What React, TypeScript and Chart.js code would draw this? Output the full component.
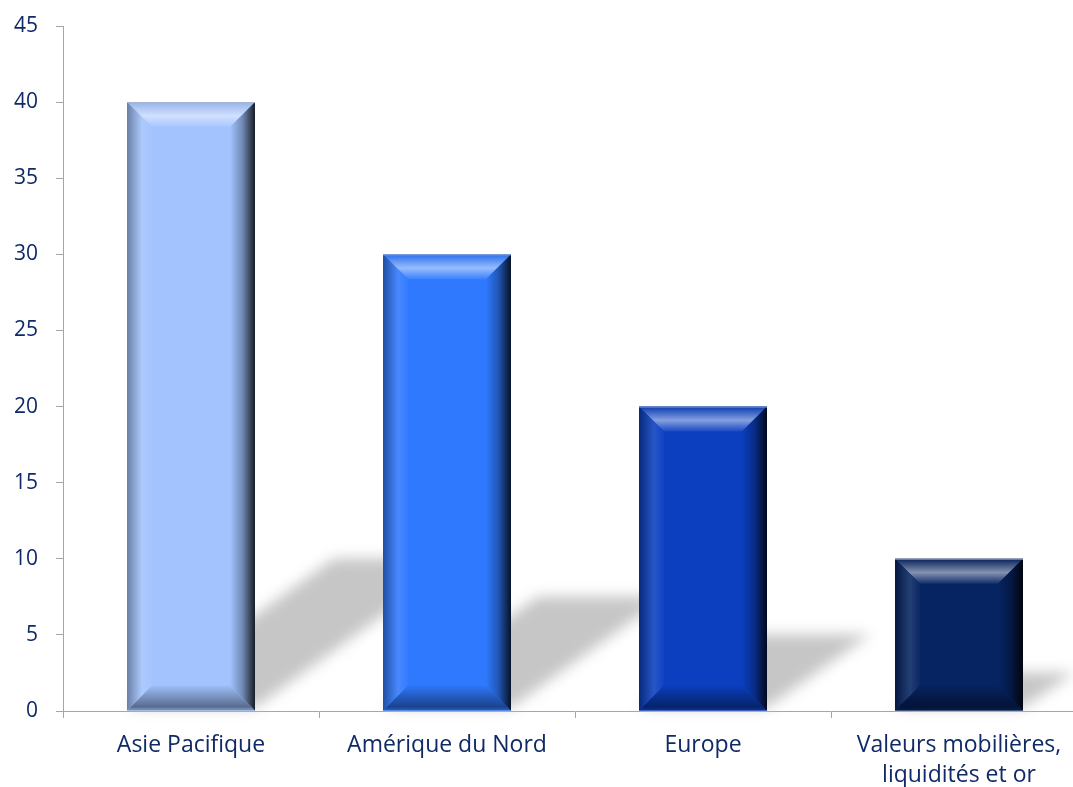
import { useEffect, useRef } from "react";
import { Chart, registerables } from "chart.js";

Chart.register(...registerables);

const categories: (string | string[])[] = [
  "Asie Pacifique",
  "Amérique du Nord",
  "Europe",
  ["Valeurs mobilières,", "liquidités et or"],
];
const values = [40, 30, 20, 10];
const barColors = ["#A2C3FE", "#2F79FE", "#0B3FC0", "#062462"];
const yMin = 0;
const yMax = 45;
const yStep = 5;

const TEXT = "#0F2A66";
const AXIS = "#A6A6A6";

function hexToRgb(h: string): number[] {
  const v = h.replace("#", "");
  return [0, 2, 4].map((i) => parseInt(v.slice(i, i + 2), 16));
}
function mix(c: number[], t: number[], a: number): string {
  const r = c.map((v, i) => Math.round(v + (t[i] - v) * a));
  return `rgb(${r[0]},${r[1]},${r[2]})`;
}
const W = [255, 255, 255];
const K = [0, 0, 0];

const bevelPlugin = {
  id: "bevel",
  beforeDatasetsDraw(chart: any) {
    const meta = chart.getDatasetMeta(0);
    const ctx = chart.ctx as CanvasRenderingContext2D;
    ctx.save();
    ctx.filter = "blur(7px)";
    ctx.fillStyle = "#C6C6C6";
    meta.data.forEach((el: any) => {
      const { x, y, base, width } = el.getProps(["x", "y", "base", "width"], true);
      const x0 = x - width / 2;
      const x1 = x + width / 2;
      const h = base - y;
      const dx = 0.34 * h;
      const dy = 0.25 * h;
      ctx.beginPath();
      ctx.moveTo(x0, base - 3);
      ctx.lineTo(x1, base - 3);
      ctx.lineTo(x1 + dx, base - dy);
      ctx.lineTo(x0 + dx, base - dy);
      ctx.closePath();
      ctx.fill();
    });
    ctx.restore();
  },
  afterDatasetsDraw(chart: any) {
    const meta = chart.getDatasetMeta(0);
    const ctx = chart.ctx as CanvasRenderingContext2D;
    ctx.save();
    meta.data.forEach((el: any, i: number) => {
      const { x, y, base, width } = el.getProps(["x", "y", "base", "width"], true);
      const c = hexToRgb(barColors[i]);
      const x0 = x - width / 2;
      const x1 = x + width / 2;
      const top = y;
      const bot = base;
      const b = Math.min(25, (bot - top) / 2, width / 2);

      let g = ctx.createLinearGradient(0, top, 0, top + b);
      g.addColorStop(0, mix(c, K, 0.08));
      g.addColorStop(0.55, mix(c, W, 0.5));
      g.addColorStop(1, mix(c, W, 0.05));
      ctx.fillStyle = g;
      ctx.beginPath();
      ctx.moveTo(x0, top);
      ctx.lineTo(x1, top);
      ctx.lineTo(x1 - b, top + b);
      ctx.lineTo(x0 + b, top + b);
      ctx.closePath();
      ctx.fill();

      g = ctx.createLinearGradient(0, bot - b, 0, bot);
      g.addColorStop(0, mix(c, K, 0.02));
      g.addColorStop(0.6, mix(c, K, 0.32));
      g.addColorStop(0.85, mix(c, K, 0.45));
      g.addColorStop(1, mix(c, K, 0.2));
      ctx.fillStyle = g;
      ctx.beginPath();
      ctx.moveTo(x0, bot);
      ctx.lineTo(x1, bot);
      ctx.lineTo(x1 - b, bot - b);
      ctx.lineTo(x0 + b, bot - b);
      ctx.closePath();
      ctx.fill();

      g = ctx.createLinearGradient(x0, 0, x0 + b, 0);
      g.addColorStop(0, mix(c, K, 0.35));
      g.addColorStop(0.6, mix(c, W, 0.12));
      g.addColorStop(1, mix(c, W, 0.02));
      ctx.fillStyle = g;
      ctx.beginPath();
      ctx.moveTo(x0, top);
      ctx.lineTo(x0 + b, top + b);
      ctx.lineTo(x0 + b, bot - b);
      ctx.lineTo(x0, bot);
      ctx.closePath();
      ctx.fill();

      g = ctx.createLinearGradient(x1 - b, 0, x1, 0);
      g.addColorStop(0, mix(c, K, 0.0));
      g.addColorStop(0.5, mix(c, K, 0.3));
      g.addColorStop(1, mix(c, K, 0.85));
      ctx.fillStyle = g;
      ctx.beginPath();
      ctx.moveTo(x1, top);
      ctx.lineTo(x1 - b, top + b);
      ctx.lineTo(x1 - b, bot - b);
      ctx.lineTo(x1, bot);
      ctx.closePath();
      ctx.fill();

      ctx.strokeStyle = "rgba(170,180,200,0.8)";
      ctx.lineWidth = 1;
      ctx.beginPath();
      ctx.moveTo(x0, top + 0.5);
      ctx.lineTo(x1, top + 0.5);
      ctx.stroke();
    });
    ctx.restore();
  },
};

export default function App() {
  const ref = useRef<HTMLCanvasElement>(null);

  useEffect(() => {
    if (!ref.current) return;
    const chart = new Chart(ref.current, {
      type: "bar",
      data: {
        labels: categories as any,
        datasets: [
          {
            data: values,
            backgroundColor: barColors,
            borderWidth: 0,
            barPercentage: 0.5,
            categoryPercentage: 1,
          },
        ],
      },
      options: {
        responsive: false,
        animation: false,
        events: [],
        layout: { padding: { top: 26, right: 13, left: 0, bottom: 0 } },
        plugins: {
          legend: { display: false },
          tooltip: { enabled: false },
        },
        scales: {
          x: {
            grid: {
              display: true,
              drawOnChartArea: false,
              drawTicks: true,
              tickLength: 7,
              color: AXIS,
              offset: true,
            },
            border: { display: true, color: AXIS, width: 1 },
            ticks: {
              color: TEXT,
              font: { family: "'Open Sans'", size: 23, lineHeight: 1.3 },
              padding: 13,
              maxRotation: 0,
              autoSkip: false,
            },
            afterFit: (s: any) => {
              s.height = 76;
              s.paddingLeft = 0;
              s.paddingRight = 0;
            },
          },
          y: {
            min: yMin,
            max: yMax,
            grid: {
              display: true,
              drawOnChartArea: false,
              drawTicks: true,
              tickLength: 7,
              color: AXIS,
            },
            border: { display: true, color: AXIS, width: 1 },
            ticks: {
              stepSize: yStep,
              color: TEXT,
              font: { family: "'Open Sans'", size: 21 },
              padding: 18,
            },
            afterFit: (s: any) => {
              s.width = 63;
              s.paddingTop = 0;
              s.paddingBottom = 0;
            },
          },
        },
      },
      plugins: [bevelPlugin],
    });
    return () => chart.destroy();
  }, []);

  return (
    <div
      style={{
        position: "absolute",
        left: 0,
        top: 0,
        width: 1073,
        height: 787,
        overflow: "hidden",
        background: "#fff",
      }}
    >
      <canvas ref={ref} width={1100} height={787} style={{ display: "block", width: 1100, height: 787 }} />
    </div>
  );
}
